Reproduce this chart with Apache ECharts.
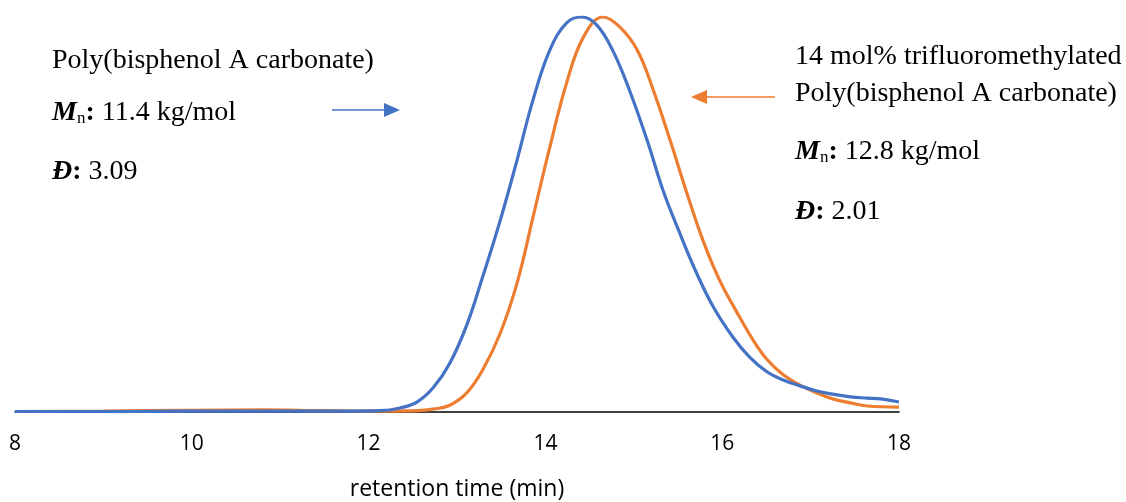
<!DOCTYPE html>
<html>
<head>
<meta charset="utf-8">
<title>GPC traces</title>
<script src="https://cdn.jsdelivr.net/npm/echarts@6/dist/echarts.min.js"></script>
<style>
  html, body { margin: 0; padding: 0; background: #fff; }
  #chart { width: 1126px; height: 502px; }
</style>
</head>
<body>
<div id="chart"></div>
<script>
// retention time (min) and normalised detector signal
const pcTime = [8.0, 9.0, 10.0, 11.0, 11.8, 12.13, 12.355, 12.547, 12.73, 12.92, 13.11, 13.29, 13.49, 13.68, 13.86, 14.05, 14.24, 14.41,
  14.58, 14.76, 14.95, 15.15, 15.33, 15.52, 15.71, 15.9, 16.12, 16.31, 16.51, 16.69, 16.88, 17.07, 17.25, 17.45, 17.64, 17.79, 18.0];
const pcSignal = [0.0, 0.0, 0.001, 0.001, 0.001, 0.002, 0.009, 0.024, 0.06, 0.123, 0.219, 0.341, 0.485, 0.638, 0.79, 0.916, 0.985, 1.0,
  0.98, 0.916, 0.815, 0.688, 0.561, 0.452, 0.351, 0.265, 0.189, 0.138, 0.1, 0.08, 0.065, 0.052, 0.044, 0.037, 0.034, 0.032, 0.024];

const cf3Time = [8.0, 9.0, 10.0, 10.8, 11.5, 12.2, 12.55, 12.73, 12.92, 13.11, 13.29, 13.49, 13.68, 13.86, 14.05, 14.24, 14.43, 14.65,
  14.84, 15.04, 15.22, 15.41, 15.6, 15.78, 15.97, 16.17, 16.35, 16.51, 16.69, 16.88, 17.07, 17.25, 17.45, 17.64, 18.0];
const cf3Signal = [0.0, 0.001, 0.003, 0.004, 0.002, 0.001, 0.002, 0.006, 0.016, 0.047, 0.105, 0.199, 0.326, 0.493, 0.67, 0.833, 0.949, 1.0,
  0.975, 0.916, 0.815, 0.688, 0.554, 0.435, 0.333, 0.25, 0.181, 0.131, 0.093, 0.067, 0.047, 0.032, 0.022, 0.014, 0.011];

const xTicks = [8, 10, 12, 14, 16, 18];

const toPairs = (xs, ys) => xs.map((x, i) => [x, ys[i]]);

const serif = '"Liberation Serif", "DejaVu Serif", serif';
const sans = '"Open Sans", Lato, sans-serif';
const richStyle = {
  mi: { fontFamily: serif, fontSize: 28, fontWeight: 'bold', fontStyle: 'italic', fill: '#000' },
  sub: { fontFamily: serif, fontSize: 17, fill: '#000', padding: [12, 0, 0, 0] },
  b: { fontFamily: serif, fontSize: 28, fontWeight: 'bold', fill: '#000' }
};

function label(x, y, text) {
  return {
    type: 'text', left: x, top: y,
    style: { text: text, rich: richStyle, fontFamily: serif, fontSize: 28, fill: '#000' }
  };
}

function arrow(x1, x2, y, color) {
  const dir = x2 > x1 ? 1 : -1;
  return [
    { type: 'line', shape: { x1: x1, y1: y, x2: x2 - dir * 12, y2: y }, style: { stroke: color, lineWidth: 1.3 } },
    { type: 'polygon', shape: { points: [[x2, y], [x2 - dir * 16, y - 7], [x2 - dir * 16, y + 7]] }, style: { fill: color } }
  ];
}

const chart = echarts.init(document.getElementById('chart'));

chart.setOption({
  animation: false,
  grid: { left: 15, right: 227, top: 17, bottom: 90.5, containLabel: false, outerBoundsMode: 'none' },
  xAxis: {
    type: 'value',
    min: 8, max: 18, interval: 2,
    name: 'retention time (min)',
    nameLocation: 'middle',
    nameGap: 66,
    nameTextStyle: { color: '#000', fontSize: 23, fontFamily: sans },
    axisLine: { show: true, lineStyle: { color: '#000', width: 1.5 } },
    axisTick: { show: false },
    splitLine: { show: false },
    axisLabel: {
      color: '#000', fontSize: 21, margin: 22,
      fontFamily: sans,
      formatter: v => (xTicks.indexOf(v) >= 0 ? String(v) : '')
    }
  },
  yAxis: {
    type: 'value', min: 0, max: 1,
    show: false,
    splitLine: { show: false }
  },
  series: [
    {
      name: 'Poly(bisphenol A carbonate)',
      type: 'line',
      data: toPairs(pcTime, pcSignal),
      smooth: 0.4,
      showSymbol: false,
      lineStyle: { color: '#4472C4', width: 3.2 },
      z: 3
    },
    {
      name: '14 mol% trifluoromethylated Poly(bisphenol A carbonate)',
      type: 'line',
      data: toPairs(cf3Time, cf3Signal),
      smooth: 0.4,
      showSymbol: false,
      lineStyle: { color: '#ED7D31', width: 3.2 },
      z: 2
    }
  ],
  graphic: [
    label(52, 47, 'Poly(bisphenol A carbonate)'),
    label(52, 99, '{mi|M}{sub|n}{b|:} 11.4 kg/mol'),
    label(52, 158, '{mi|Đ}{b|:} 3.09'),
    label(795, 43, '14 mol% trifluoromethylated'),
    label(795, 80, 'Poly(bisphenol A carbonate)'),
    label(795, 138, '{mi|M}{sub|n}{b|:} 12.8 kg/mol'),
    label(795, 198, '{mi|Đ}{b|:} 2.01'),
    ...arrow(332, 400, 110, '#4472C4'),
    ...arrow(775, 691, 97, '#ED7D31')
  ]
});
</script>
</body>
</html>
